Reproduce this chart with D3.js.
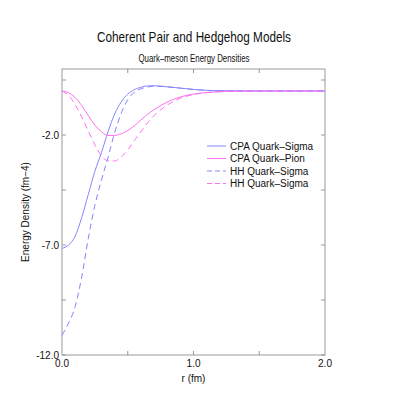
<!DOCTYPE html>
<html lang="en">
<head>
    <meta charset="utf-8">
    <script src="https://cdn.jsdelivr.net/npm/d3@7"></script>
    <style>
        body { margin: 0; background: #fff; }
        text { font-family: "Liberation Sans", Arial, sans-serif; fill: #111; }
    </style>
</head>
<body>
<div id="chart"></div>
<script>
    // radius values (fm) and energy densities
    var rVals = [0, 0.05, 0.1, 0.15, 0.2, 0.25, 0.3, 0.35, 0.4, 0.45, 0.5, 0.55, 0.6, 0.65, 0.7, 0.8, 0.9, 1.0, 1.1, 1.2, 1.4, 1.6, 1.8, 2.0]
    var cpaSigma = [-7.15, -7.0, -6.6, -5.75, -4.7, -3.65, -2.8, -1.85, -1.05, -0.5, -0.14, 0.06, 0.17, 0.23, 0.24, 0.19, 0.13, 0.07, 0.03, 0.01, 0, 0, 0, 0]
    var cpaPion = [0, -0.08, -0.3, -0.66, -1.12, -1.55, -1.85, -2.02, -2.02, -1.95, -1.8, -1.58, -1.32, -1.06, -0.85, -0.5, -0.27, -0.14, -0.07, -0.03, -0.005, 0, 0, 0]
    var hhSigma = [-11.1, -10.55, -9.8, -8.45, -6.7, -5.2, -4.05, -3.02, -1.9, -1.02, -0.4, -0.05, 0.1, 0.18, 0.22, 0.19, 0.13, 0.07, 0.03, 0.01, 0, 0, 0, 0]
    var hhPion = [0, -0.2, -0.62, -1.18, -1.82, -2.45, -2.95, -3.17, -3.18, -3.0, -2.68, -2.25, -1.85, -1.45, -1.12, -0.64, -0.33, -0.16, -0.07, -0.03, -0.005, 0, 0, 0]

    var seriesNames = ["CPA Quark\u2013Sigma", "CPA Quark\u2013Pion", "HH Quark\u2013Sigma", "HH Quark\u2013Sigma"]
    var seriesData = [cpaSigma, cpaPion, hhSigma, hhPion]
    var seriesColors = ["#8585ff", "#ff70f0", "#8585ff", "#ff70f0"]
    var seriesDash = [null, null, "6,4", "6,4"]

    var xMajor = [0, 1, 2]
    var xMinor = [0.5, 1.0, 1.5]
    var yMajor = [-12, -7, -2]
    var yMinor = [-9.5, -4.5, 0.5]

    var width = 415,
        height = 415,
        pLeft = 62, pRight = 325, pTop = 69, pBottom = 355

    var svg = d3.select("#chart")
        .append("svg")
            .attr("width", width)
            .attr("height", height)

    var x = d3.scaleLinear().domain([0, 2]).range([pLeft, pRight])
    var y = d3.scaleLinear().domain([-12, 1]).range([pBottom, pTop])

    // frame
    svg.append("rect")
        .attr("x", pLeft).attr("y", pTop)
        .attr("width", pRight - pLeft).attr("height", pBottom - pTop)
        .attr("fill", "none")
        .attr("stroke", "#999")
        .attr("stroke-width", 1)

    // inward ticks on all four sides
    var tk = 4
    var allY = yMajor.concat(yMinor)
    svg.selectAll(".ytl").data(allY).enter().append("line")
        .attr("x1", pLeft).attr("x2", pLeft + tk)
        .attr("y1", d => y(d)).attr("y2", d => y(d))
        .attr("stroke", "#999")
    svg.selectAll(".ytr").data(allY).enter().append("line")
        .attr("x1", pRight).attr("x2", pRight - tk)
        .attr("y1", d => y(d)).attr("y2", d => y(d))
        .attr("stroke", "#999")
    svg.selectAll(".xtb").data(xMinor).enter().append("line")
        .attr("x1", d => x(d)).attr("x2", d => x(d))
        .attr("y1", pBottom).attr("y2", pBottom - tk)
        .attr("stroke", "#999")
    svg.selectAll(".xtt").data(xMinor).enter().append("line")
        .attr("x1", d => x(d)).attr("x2", d => x(d))
        .attr("y1", pTop).attr("y2", pTop + tk)
        .attr("stroke", "#999")

    // tick labels
    svg.selectAll(".yl").data(yMajor).enter().append("text")
        .attr("x", pLeft - 3)
        .attr("y", d => y(d) + 3.5)
        .attr("text-anchor", "end")
        .style("font-size", "10px")
        .text(d => d.toFixed(1))
    svg.selectAll(".xl").data(xMajor).enter().append("text")
        .attr("x", d => x(d))
        .attr("y", pBottom + 12)
        .attr("text-anchor", "middle")
        .style("font-size", "10px")
        .text(d => d.toFixed(1))

    // axis titles
    svg.append("text")
        .attr("x", x(1)).attr("y", pBottom + 27)
        .attr("text-anchor", "middle")
        .style("font-size", "10px")
        .text("r (fm)")
    svg.append("text")
        .attr("transform", "translate(29," + (pTop + pBottom) / 2 + ") rotate(-90)")
        .attr("text-anchor", "middle")
        .style("font-size", "10px")
        .text("Energy Density (fm\u22124)")

    // titles, squeezed to the narrow face of the original
    svg.append("text")
        .attr("x", 194).attr("y", 42)
        .attr("text-anchor", "middle")
        .attr("textLength", 194)
        .attr("lengthAdjust", "spacingAndGlyphs")
        .style("font-size", "15px")
        .text("Coherent Pair and Hedgehog Models")
    svg.append("text")
        .attr("x", 194).attr("y", 62)
        .attr("text-anchor", "middle")
        .attr("textLength", 111)
        .attr("lengthAdjust", "spacingAndGlyphs")
        .style("font-size", "10px")
        .text("Quark\u2013meson Energy Densities")

    // curves
    var line = d3.line()
        .x((d, i) => x(rVals[i]))
        .y(d => y(d))
        .curve(d3.curveMonotoneX)

    svg.selectAll(".curve").data(seriesData).enter().append("path")
        .attr("d", d => line(d))
        .attr("fill", "none")
        .attr("stroke", (d, i) => seriesColors[i])
        .attr("stroke-width", 1)
        .attr("stroke-dasharray", (d, i) => seriesDash[i])

    // legend
    var lg = svg.append("g")
    seriesNames.forEach(function(name, i) {
        var ly = 146 + i * 12.5
        lg.append("line")
            .attr("x1", 207).attr("x2", 226)
            .attr("y1", ly).attr("y2", ly)
            .attr("stroke", seriesColors[i])
            .attr("stroke-width", 1)
            .attr("stroke-dasharray", seriesDash[i] ? "5,3" : null)
        lg.append("text")
            .attr("x", 230).attr("y", ly + 3.5)
            .style("font-size", "10px")
            .text(name)
    })
</script>
</body>
</html>
